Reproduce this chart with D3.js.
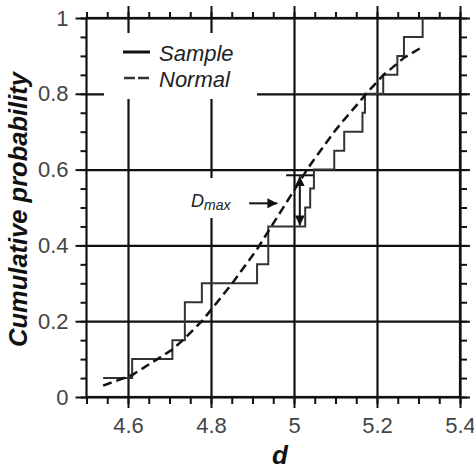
<!DOCTYPE html>
<html>
<head>
<meta charset="utf-8">
<script src="https://cdn.jsdelivr.net/npm/d3@7"></script>
<style>
body { margin: 0; background: #fff; }
svg { display: block; font-family: "Liberation Sans", Arial, sans-serif; }
</style>
</head>
<body>
<div id="chart"></div>
<script>
// sample ECDF: where it jumps and the level after the jump
const sampleD = [4.54, 4.61, 4.707, 4.737, 4.778, 4.911, 4.938, 5.027, 5.039, 5.048, 5.097, 5.121, 5.165, 5.171, 5.215, 5.249, 5.265, 5.31];
const sampleP = [0.05, 0.10, 0.15, 0.25, 0.30, 0.35, 0.45, 0.50, 0.55, 0.60, 0.65, 0.70, 0.75, 0.80, 0.85, 0.90, 0.95, 1.00];

// normal curve
const normalD = [4.54, 4.61, 4.707, 4.737, 4.778, 4.85, 4.911, 4.938, 5.027, 5.039, 5.048, 5.097, 5.121, 5.165, 5.171, 5.215, 5.249, 5.265, 5.31];
const normalP = [0.030, 0.058, 0.125, 0.155, 0.200, 0.298, 0.390, 0.437, 0.592, 0.612, 0.626, 0.700, 0.732, 0.788, 0.797, 0.849, 0.880, 0.895, 0.924];

const xMajor = [4.6, 4.8, 5, 5.2, 5.4];
const yMajor = [0, 0.2, 0.4, 0.6, 0.8, 1];
const xMinor = d3.range(4.5, 5.401, 0.05);
const yMinor = d3.range(0, 1.001, 0.05);

// D max marker
const dmaxD = 5.014, dmaxLow = 0.45, dmaxHigh = 0.585;

const W = 474, H = 469;
const plotL = 86.5, plotR = 460, plotT = 18, plotB = 397;

const svg = d3.select("#chart").append("svg")
    .attr("width", W)
    .attr("height", H);

const x = d3.scaleLinear().domain([4.5, 5.4]).range([plotL, plotR]);
const y = d3.scaleLinear().domain([0, 1]).range([plotB, plotT]);

const ink = "#111";

// grid
svg.append("g")
    .attr("transform", `translate(0,${plotB})`)
    .call(d3.axisBottom(x).tickValues(xMajor).tickSize(-(plotB - plotT)).tickFormat(""))
    .call(g => g.select(".domain").remove());
svg.append("g")
    .attr("transform", `translate(${plotL},0)`)
    .call(d3.axisLeft(y).tickValues(yMajor).tickSize(-(plotR - plotL)).tickFormat(""))
    .call(g => g.select(".domain").remove());
svg.selectAll(".tick line").attr("stroke", ink).attr("stroke-width", 2.2);

// white boxes behind legend and label
svg.append("rect").attr("x", 104).attr("y", 33).attr("width", 153).attr("height", 66).attr("fill", "#fff");
svg.append("rect").attr("x", 180).attr("y", 178).attr("width", 62).attr("height", 40).attr("fill", "#fff");

// axes: majors + minors on all four sides
function styleAxis(g, labels) {
    g.select(".domain").remove();
    g.selectAll(".tick line").attr("stroke", ink).attr("stroke-width", 2);
    g.selectAll(".tick text")
        .attr("fill", "#444")
        .style("font-size", "22px")
        .style("font-family", "'Liberation Sans', Arial, sans-serif");
    if (!labels) g.selectAll(".tick text").remove();
}

svg.append("g").attr("transform", `translate(0,${plotB})`)
    .call(d3.axisBottom(x).tickValues(xMinor).tickSize(7).tickFormat(""))
    .call(g => styleAxis(g, false));
svg.append("g").attr("transform", `translate(0,${plotB})`)
    .call(d3.axisBottom(x).tickValues(xMajor).tickSize(11).tickPadding(9).tickFormat(d3.format("")))
    .call(g => styleAxis(g, true));

svg.append("g").attr("transform", `translate(0,${plotT})`)
    .call(d3.axisTop(x).tickValues(xMinor).tickSize(6).tickFormat(""))
    .call(g => styleAxis(g, false));
svg.append("g").attr("transform", `translate(0,${plotT})`)
    .call(d3.axisTop(x).tickValues(xMajor).tickSize(12).tickFormat(""))
    .call(g => styleAxis(g, false));

svg.append("g").attr("transform", `translate(${plotL},0)`)
    .call(d3.axisLeft(y).tickValues(yMinor).tickSize(6).tickFormat(""))
    .call(g => styleAxis(g, false));
svg.append("g").attr("transform", `translate(${plotL},0)`)
    .call(d3.axisLeft(y).tickValues(yMajor).tickSize(11).tickPadding(7).tickFormat(d3.format("")))
    .call(g => styleAxis(g, true));

svg.append("g").attr("transform", `translate(${plotR},0)`)
    .call(d3.axisRight(y).tickValues(yMinor).tickSize(7).tickFormat(""))
    .call(g => styleAxis(g, false));
svg.append("g").attr("transform", `translate(${plotR},0)`)
    .call(d3.axisRight(y).tickValues(yMajor).tickSize(10).tickFormat(""))
    .call(g => styleAxis(g, false));

// frame
svg.append("rect")
    .attr("x", plotL).attr("y", plotT)
    .attr("width", plotR - plotL).attr("height", plotB - plotT)
    .attr("fill", "none").attr("stroke", ink).attr("stroke-width", 2.2);

// sample step line
const sampleData = sampleD.map((d, i) => [d, sampleP[i]]);
svg.append("path")
    .datum(sampleData)
    .attr("fill", "none")
    .attr("stroke", "#333")
    .attr("stroke-width", 2)
    .attr("d", d3.line().x(d => x(d[0])).y(d => y(d[1])).curve(d3.curveStepAfter));

// normal dashed line
const normalData = normalD.map((d, i) => [d, normalP[i]]);
svg.append("path")
    .datum(normalData)
    .attr("fill", "none")
    .attr("stroke", ink)
    .attr("stroke-width", 2.5)
    .attr("stroke-dasharray", "9,5")
    .attr("d", d3.line().x(d => x(d[0])).y(d => y(d[1])));

// arrow heads
const defs = svg.append("defs");
defs.append("marker")
    .attr("id", "head")
    .attr("viewBox", "0 0 10 10")
    .attr("refX", 10).attr("refY", 5)
    .attr("markerWidth", 10).attr("markerHeight", 10)
    .attr("markerUnits", "userSpaceOnUse")
    .attr("orient", "auto-start-reverse")
    .append("path")
    .attr("d", "M0,0L10,5L0,10Z")
    .attr("fill", ink);

// D max annotation
svg.append("line")
    .attr("x1", x(4.981)).attr("x2", x(5.046))
    .attr("y1", y(dmaxHigh)).attr("y2", y(dmaxHigh))
    .attr("stroke", ink).attr("stroke-width", 2);
svg.append("line")
    .attr("x1", x(dmaxD)).attr("x2", x(dmaxD))
    .attr("y1", y(dmaxHigh) + 1).attr("y2", y(dmaxLow) - 1)
    .attr("stroke", ink).attr("stroke-width", 2)
    .attr("marker-start", "url(#head)")
    .attr("marker-end", "url(#head)");
svg.append("line")
    .attr("x1", x(4.892)).attr("x2", x(4.96))
    .attr("y1", y(0.511)).attr("y2", y(0.511))
    .attr("stroke", ink).attr("stroke-width", 2)
    .attr("marker-end", "url(#head)");

const dl = svg.append("text")
    .attr("x", 191).attr("y", 207)
    .attr("fill", "#222")
    .style("font-style", "italic")
    .style("font-size", "18px");
dl.append("tspan").text("D");
dl.append("tspan").attr("dy", 3).style("font-size", "14px").text("max");

// legend
svg.append("line").attr("x1", 123).attr("x2", 150).attr("y1", 52).attr("y2", 52)
    .attr("stroke", ink).attr("stroke-width", 3);
svg.append("line").attr("x1", 124).attr("x2", 150).attr("y1", 78).attr("y2", 78)
    .attr("stroke", "#333").attr("stroke-width", 2.5).attr("stroke-dasharray", "11,3");
svg.append("text").attr("x", 159).attr("y", 61)
    .attr("fill", "#222").style("font-style", "italic").style("font-size", "22px").text("Sample");
svg.append("text").attr("x", 159).attr("y", 87)
    .attr("fill", "#222").style("font-style", "italic").style("font-size", "22px").text("Normal");

// axis titles
svg.append("text")
    .attr("x", 280).attr("y", 464)
    .attr("text-anchor", "middle")
    .attr("fill", ink)
    .style("font-weight", "bold").style("font-style", "italic").style("font-size", "26px")
    .text("d");
svg.append("text")
    .attr("transform", `translate(27,${(plotT + plotB) / 2 + 2}) rotate(-90)`)
    .attr("text-anchor", "middle")
    .attr("fill", ink)
    .style("font-weight", "bold").style("font-style", "italic").style("font-size", "25.5px")
    .text("Cumulative probability");
</script>
</body>
</html>
